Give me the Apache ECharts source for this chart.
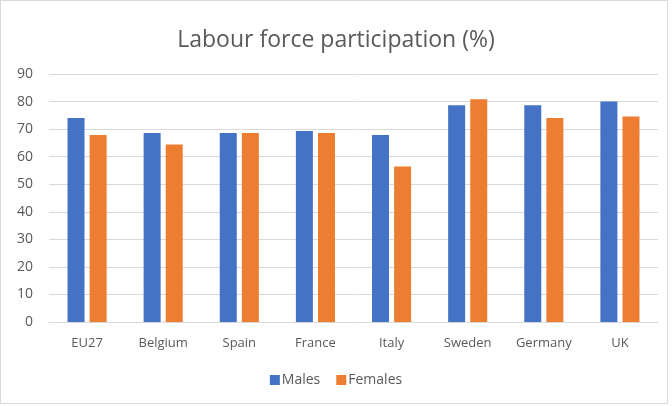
<!DOCTYPE html>
<html>
<head>
<meta charset="utf-8">
<script src="https://cdn.jsdelivr.net/npm/echarts@6/dist/echarts.min.js"></script>
<style>
  html, body { margin: 0; padding: 0; background: #fff; }
  #frame { position: absolute; left: 0; top: 0; width: 666px; height: 402px; border: 1px solid #d9d9d9; }
  #chart { width: 672px; height: 406px; position: absolute; left: 0; top: 0; }
</style>
</head>
<body>
<div id="frame"></div>
<div id="chart"></div>
<script>
// Labour force participation rates by country (%)
const countries = ['EU27', 'Belgium', 'Spain', 'France', 'Italy', 'Sweden', 'Germany', 'UK'];
const males = [74.0, 68.6, 68.6, 69.3, 67.9, 78.7, 78.7, 80.0];
const females = [67.9, 64.4, 68.6, 68.6, 56.4, 80.8, 74.0, 74.6];
const yTicks = { min: 0, max: 90, interval: 10 };

const font = '"Open Sans", "Noto Sans", sans-serif';
const textColor = '#595959';

const chart = echarts.init(document.getElementById('chart'), null, { renderer: 'canvas' });
chart.setOption({
  animation: false,
  title: {
    text: 'Labour force participation (%)',
    left: 'center',
    top: 24,
    textStyle: { fontFamily: font, fontSize: 23, fontWeight: 'normal', color: textColor }
  },
  legend: {
    bottom: 14,
    left: 'center',
    itemWidth: 10,
    itemHeight: 10,
    itemGap: 16,
    icon: 'rect',
    textStyle: { fontFamily: font, fontSize: 14, color: textColor, padding: [0, 0, 0, -3] },
    data: ['Males', 'Females']
  },
  grid: { left: 49, right: 14, top: 74, bottom: 84 },
  xAxis: {
    type: 'category',
    data: countries,
    axisLine: { lineStyle: { color: '#d9d9d9', width: 1 } },
    axisTick: { show: false },
    axisLabel: { fontFamily: font, fontSize: 13, color: textColor, margin: 15 }
  },
  yAxis: {
    type: 'value',
    min: yTicks.min,
    max: yTicks.max,
    interval: yTicks.interval,
    axisLine: { show: false },
    axisTick: { show: false },
    splitLine: { lineStyle: { color: '#d9d9d9', width: 1 } },
    axisLabel: { fontFamily: font, fontSize: 14, color: textColor, margin: 16 }
  },
  series: [
    {
      name: 'Males',
      type: 'bar',
      data: males,
      barWidth: 17,
      barGap: '30%',
      itemStyle: { color: '#4472c4' }
    },
    {
      name: 'Females',
      type: 'bar',
      data: females,
      barWidth: 17,
      barGap: '30%',
      itemStyle: { color: '#ed7d31' }
    }
  ]
});
</script>
</body>
</html>
